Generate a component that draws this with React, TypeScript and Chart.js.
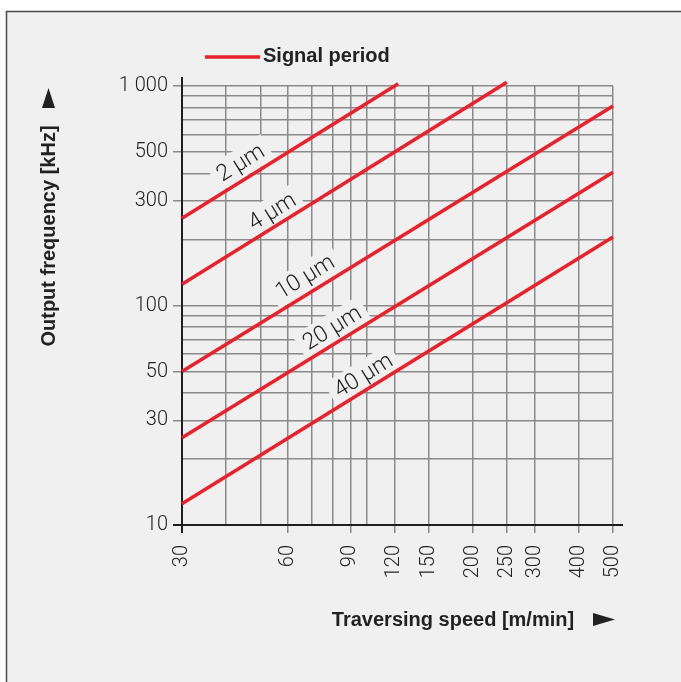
import React, { useEffect, useRef } from "react";
import { Chart, registerables } from "chart.js";

Chart.register(...registerables);

// Signal period lines (speed in m/min, frequency in kHz)
const speeds2um = [30, 123];
const freq2um = [250, 1025];
const speeds4um = [30, 250];
const freq4um = [125, 1040];
const speeds10um = [30, 500];
const freq10um = [50, 810];
const speeds20um = [30, 500];
const freq20um = [25, 405];
const speeds40um = [30, 500];
const freq40um = [12.5, 205];

const periodLabels = ["2 µm", "4 µm", "10 µm", "20 µm", "40 µm"];
const labelSpeeds = [44, 54, 67, 80, 98];
const labelFreqs = [447, 268, 135, 79, 48];

const xGridValues = [30, 40, 50, 60, 70, 80, 90, 100, 120, 150, 200, 250, 300, 400, 500];
const xTickLabels = [30, 60, 90, 120, 150, 200, 250, 300, 400, 500];
const yGridValues = [10, 20, 30, 40, 50, 60, 70, 80, 90, 100, 200, 300, 400, 500, 600, 700, 800, 900, 1000];
const yTickLabels = [10, 30, 50, 100, 300, 500, 1000];

const legendText = "Signal period";
const xTitle = "Traversing speed [m/min]";
const yTitle = "Output frequency [kHz]";

const RED = "#e8212b";
const BG = "#f0f0f0";
const GRID = "#8a8a8a";
const TEXT = "#222222";
const FONT = "'Liberation Sans', Arial, sans-serif";
const LIGHT = "Roboto, 'Liberation Sans', sans-serif";

function pairs(xs: number[], ys: number[]) {
  return xs.map((x, i) => ({ x, y: ys[i] }));
}

function fmtY(v: number) {
  return v === 1000 ? "1 000" : String(v);
}

export default function App() {
  const ref = useRef<HTMLCanvasElement | null>(null);

  useEffect(() => {
    const canvas = ref.current;
    if (!canvas) return;

    const decor = {
      id: "decor",
      beforeDraw(chart: any) {
        const ctx = chart.ctx;
        ctx.save();
        ctx.fillStyle = "#ffffff";
        ctx.fillRect(0, 0, chart.width, chart.height);
        ctx.fillStyle = BG;
        ctx.fillRect(6, 11, chart.width - 6, chart.height - 11);
        ctx.strokeStyle = "#4a4a4a";
        ctx.lineWidth = 1.5;
        ctx.beginPath();
        ctx.moveTo(6.5, chart.height);
        ctx.lineTo(6.5, 11.5);
        ctx.lineTo(chart.width, 11.5);
        ctx.stroke();
        ctx.restore();
      },
      beforeDatasetsDraw(chart: any) {
        const ctx = chart.ctx;
        const xs = chart.scales.x;
        const ys = chart.scales.y;
        const area = chart.chartArea;
        const ang = Math.atan2(
          ys.getPixelForValue(freq10um[1]) - ys.getPixelForValue(freq10um[0]),
          xs.getPixelForValue(speeds10um[1]) - xs.getPixelForValue(speeds10um[0])
        );
        ctx.save();
        ctx.font = `300 23px ${LIGHT}`;
        ctx.textAlign = "center";
        ctx.textBaseline = "middle";
        periodLabels.forEach((t, i) => {
          const px = xs.getPixelForValue(labelSpeeds[i]);
          const py = ys.getPixelForValue(labelFreqs[i]);
          const w = ctx.measureText(t).width;
          ctx.save();
          ctx.translate(px, py);
          ctx.rotate(ang);
          ctx.fillStyle = BG;
          ctx.fillRect(-w / 2 - 6, -14, w + 12, 28);
          ctx.fillStyle = TEXT;
          ctx.fillText(t, 0, 1);
          ctx.restore();
        });
        ctx.strokeStyle = "#1e1e1e";
        ctx.lineWidth = 2;
        ctx.beginPath();
        ctx.moveTo(area.left - 9, area.bottom);
        ctx.lineTo(area.right + 10, area.bottom);
        ctx.moveTo(area.left, area.top - 9);
        ctx.lineTo(area.left, area.bottom + 8);
        ctx.stroke();
        ctx.restore();
      },
      afterDraw(chart: any) {
        const ctx = chart.ctx;
        ctx.save();
        ctx.fillStyle = TEXT;
        ctx.strokeStyle = RED;
        ctx.lineWidth = 3.5;
        ctx.beginPath();
        ctx.moveTo(205, 57);
        ctx.lineTo(260, 57);
        ctx.stroke();
        ctx.font = `bold 20px ${FONT}`;
        ctx.textAlign = "left";
        ctx.textBaseline = "middle";
        ctx.fillText(legendText, 263, 56);
        ctx.font = `bold 20px ${FONT}`;
        ctx.textAlign = "center";
        ctx.fillText(xTitle, 453, 620);
        ctx.beginPath();
        ctx.moveTo(593, 613);
        ctx.lineTo(615, 619.5);
        ctx.lineTo(593, 626);
        ctx.closePath();
        ctx.fill();
        ctx.save();
        ctx.translate(49, 236);
        ctx.rotate(-Math.PI / 2);
        ctx.fillText(yTitle, 0, 0);
        ctx.restore();
        ctx.beginPath();
        ctx.moveTo(48.5, 88);
        ctx.lineTo(55, 108);
        ctx.lineTo(42, 108);
        ctx.closePath();
        ctx.fill();
        ctx.restore();
      },
    };

    const mk = (xs: number[], ys: number[]) => ({
      data: pairs(xs, ys),
      borderColor: RED,
      backgroundColor: RED,
      borderWidth: 3.5,
      pointRadius: 0,
      clip: false as any,
      tension: 0,
    });

    const chart = new Chart(canvas, {
      type: "line",
      data: {
        datasets: [
          mk(speeds2um, freq2um),
          mk(speeds4um, freq4um),
          mk(speeds10um, freq10um),
          mk(speeds20um, freq20um),
          mk(speeds40um, freq40um),
        ],
      },
      options: {
        animation: false,
        responsive: false,
        devicePixelRatio: 1,
        layout: { padding: { left: 0, top: 86, right: 68, bottom: 0 } },
        plugins: { legend: { display: false }, tooltip: { enabled: false } },
        scales: {
          x: {
            type: "logarithmic",
            min: 30,
            max: 500,
            afterBuildTicks: (axis: any) => {
              axis.ticks = xGridValues.map((v) => ({ value: v }));
            },
            afterFit: (axis: any) => {
              axis.height = 157;
            },
            border: { display: false },
            grid: {
              color: GRID,
              lineWidth: 1.5,
              drawTicks: true,
              tickLength: 8,
              tickColor: (c: any) => (xTickLabels.includes(c.tick?.value) ? GRID : "rgba(0,0,0,0)"),
            },
            ticks: {
              autoSkip: false,
              maxRotation: 90,
              minRotation: 90,
              padding: 12,
              color: TEXT,
              font: { family: LIGHT, size: 20, weight: "300" as any },
              callback: (v: any) => (xTickLabels.includes(Number(v)) ? String(v) : ""),
            },
          },
          y: {
            type: "logarithmic",
            min: 10,
            max: 1000,
            afterBuildTicks: (axis: any) => {
              axis.ticks = yGridValues.map((v) => ({ value: v }));
            },
            afterFit: (axis: any) => {
              axis.width = 182;
            },
            border: { display: false },
            grid: {
              color: GRID,
              lineWidth: 1.5,
              drawTicks: true,
              tickLength: 9,
              tickColor: (c: any) => (yTickLabels.includes(c.tick?.value) ? GRID : "rgba(0,0,0,0)"),
            },
            ticks: {
              autoSkip: false,
              padding: 5,
              color: TEXT,
              font: { family: LIGHT, size: 20, weight: "300" as any },
              callback: (v: any) => (yTickLabels.includes(Number(v)) ? fmtY(Number(v)) : ""),
            },
          },
        },
      },
      plugins: [decor],
    });

    return () => chart.destroy();
  }, []);

  return (
    <div style={{ position: "fixed", left: 0, top: 0, width: 681, height: 682 }}>
      <canvas ref={ref} width={681} height={682} style={{ display: "block" }} />
    </div>
  );
}
